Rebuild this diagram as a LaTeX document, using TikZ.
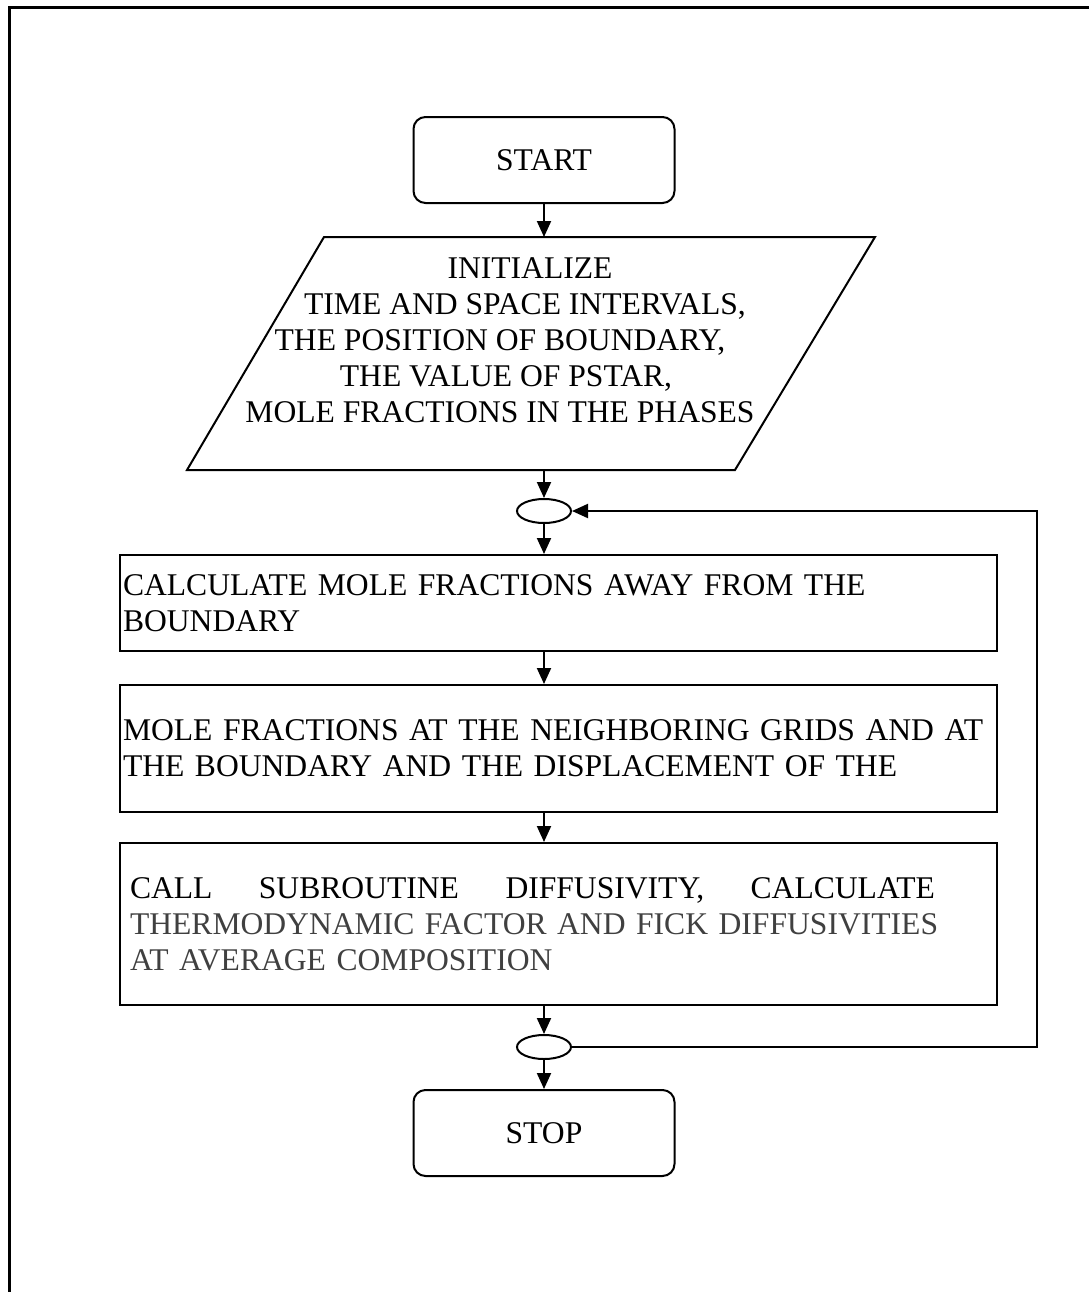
\documentclass[tikz,border=0pt]{standalone}
\usepackage{fontspec}
\setmainfont{Liberation Serif}
\usetikzlibrary{arrows.meta,shapes.geometric}

\tikzset{
  terminal/.style={draw,line width=1pt,rounded corners=6pt,minimum width=130.5pt,minimum height=43pt},
  process/.style={draw,line width=1pt,inner xsep=1.5pt,text width=435.5pt,align=left},
  joint/.style={draw,line width=1pt,ellipse,minimum width=27pt,minimum height=12pt,inner sep=0pt},
  flow/.style={line width=1pt,-{Triangle[length=8pt,width=7pt]}}
}

\begin{document}
\begin{tikzpicture}[x=0.5pt,y=-0.5pt,font=\fontsize{15.8}{18}\selectfont]
 \useasboundingbox (0,0) rectangle (1089,1292);
 \draw[line width=1.5pt] (9,1292) -- (9,7) -- (1089,7);

 \node[terminal] (start) at (544,160) {START};

 % input block
 \draw[line width=1pt] (324,237) -- (875,237) -- (735,470) -- (187,470) -- cycle;
 \coordinate (inittop) at (544,237);
 \coordinate (initbot) at (544,470);
 \node[align=center] (inittext) at (500,340)
   {\hspace*{30pt}INITIALIZE\\ \hspace*{25pt}TIME AND SPACE INTERVALS,\\ THE POSITION OF BOUNDARY,\hspace*{12pt}\\
    \hspace*{6pt}THE VALUE OF PSTAR,\\ MOLE FRACTIONS IN THE PHASES};
 \node[joint] (join1) at (544,511) {};

 \node[process,minimum height=48pt] (calc1) at (558.5,603)
   {CALCULATE MOLE FRACTIONS AWAY FROM THE\\ BOUNDARY};
 \node[process,minimum height=63.5pt] (calc2) at (558.5,748.5)
   {MOLE FRACTIONS AT THE NEIGHBORING GRIDS AND AT\\ THE BOUNDARY AND THE DISPLACEMENT OF THE};
 \node[process,minimum height=81pt] (calc3) at (558.5,924)
   {\hspace*{3.5pt}\begin{minipage}{430pt}\raggedright
    \makebox[402.5pt][l]{CALL\hfill SUBROUTINE\hfill DIFFUSIVITY,\hfill CALCULATE}\\
    \color{black!75}THERMODYNAMIC FACTOR AND FICK DIFFUSIVITIES\\ AT AVERAGE COMPOSITION
    \end{minipage}};

 \node[joint] (join2) at (544,1047) {};
 \node[terminal] (stop) at (544,1133) {STOP};

 % main line
 \draw[flow] (start.south) -- (inittop);
 \draw[flow] (initbot) -- (join1);
 \draw[flow] (join1) -- (join1 |- calc1.north);
 \draw[flow] (join1 |- calc1.south) -- (join1 |- calc2.north);
 \draw[flow] (join1 |- calc2.south) -- (join1 |- calc3.north);
 \draw[flow] (join2 |- calc3.south) -- (join2);
 \draw[flow] (join2) -- (stop);
 % loop back
 \draw[flow] (join2.east) -- ++(465,0) |- (join1.east);
\end{tikzpicture}
\end{document}
